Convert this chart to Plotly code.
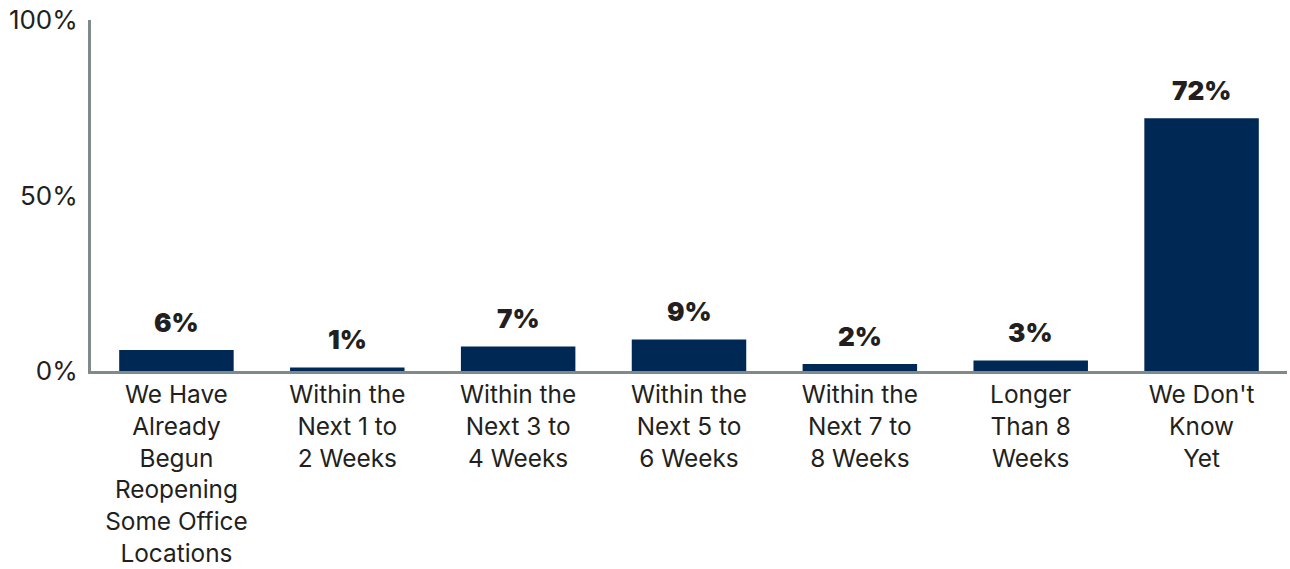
import plotly.graph_objects as go

categories = [
    "We Have<br>Already<br>Begun<br>Reopening<br>Some Office<br>Locations",
    "Within the<br>Next 1 to<br>2 Weeks",
    "Within the<br>Next 3 to<br>4 Weeks",
    "Within the<br>Next 5 to<br>6 Weeks",
    "Within the<br>Next 7 to<br>8 Weeks",
    "Longer<br>Than 8<br>Weeks",
    "We Don't<br>Know<br>Yet",
]
values = [6, 1, 7, 9, 2, 3, 72]
value_labels = [f"{v}%" for v in values]

y_ticks = [0, 50, 100]
y_tick_text = ["0%", "50%", "100%"]

BAR = "#002855"
AXIS = "#7f8a8a"
TEXT = "#231f20"
FONT = "Inter, Roboto, sans-serif"

fig = go.Figure(
    go.Bar(
        x=categories,
        y=values,
        marker=dict(color=BAR, line=dict(width=0)),
        width=0.67,
        hoverinfo="skip",
    )
)

for c, v, t in zip(categories, values, value_labels):
    fig.add_annotation(
        x=c, y=v, text=t, showarrow=False,
        yanchor="bottom", yshift=10,
        font=dict(family=FONT, size=26, color=TEXT, weight=900),
    )

fig.update_layout(
    width=1290, height=569,
    margin=dict(l=91, r=3, t=20, b=198),
    paper_bgcolor="white", plot_bgcolor="white",
    showlegend=False,
    font=dict(family=FONT, size=24.4, color=TEXT),
    bargap=0.33,
)
fig.update_xaxes(
    showline=True, linecolor=AXIS, linewidth=3,
    ticks="", showgrid=False, automargin=False,
    tickfont=dict(family=FONT, size=24.4, color=TEXT),
    ticklabelstandoff=0,
)
fig.update_yaxes(
    range=[0, 100], tickvals=y_ticks, ticktext=y_tick_text,
    showline=True, linecolor=AXIS, linewidth=3,
    ticks="", showgrid=False, zeroline=False, automargin=False,
    tickfont=dict(family=FONT, size=26, color=TEXT),
    ticklabelstandoff=5,
)

fig.write_html("out.html")
